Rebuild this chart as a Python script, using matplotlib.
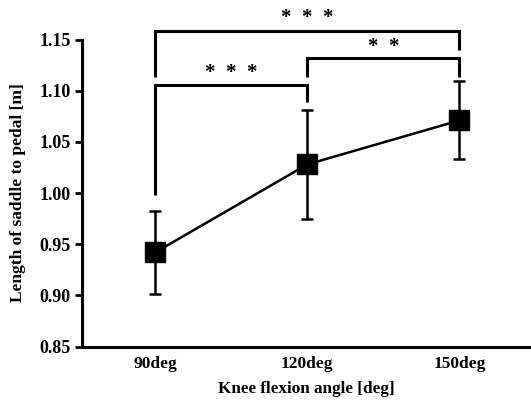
import matplotlib
matplotlib.use("Agg")
import matplotlib.pyplot as plt

categories = ["90deg", "120deg", "150deg"]
means = [0.942, 1.028, 1.071]
errors = [0.041, 0.053, 0.038]
yticks = [0.85, 0.90, 0.95, 1.00, 1.05, 1.10, 1.15]

# significance brackets: (i, j, bar_y, left_leg_bottom, right_leg_bottom, label, label_y)
brackets = [
    (0, 2, 1.1583, 1.1137, 1.1397, "***", 1.1707),
    (1, 2, 1.1316, 1.1137, 1.1137, "**", 1.1430),
    (0, 1, 1.1059, 0.9980, 1.0887, "***", 1.1176),
]

plt.rcParams['font.family'] = ['Liberation Serif', 'DejaVu Serif']

fig = plt.figure(figsize=(5.31, 4.05), dpi=100)
ax = fig.add_axes([82/531, 1-346.7/405, 1-82/531, (346.7-39.5)/405])

x = list(range(len(categories)))
ax.errorbar(x, means, yerr=errors, fmt='s-', color='black', ms=15, lw=1.8,
            elinewidth=1.8, capsize=4.3, capthick=1.8, zorder=3)

for i, j, by, lb, rb, lab, ly in brackets:
    ax.plot([i, i, j, j], [lb, by, by, rb], color='black', lw=2.2,
            clip_on=False, solid_capstyle='butt', solid_joinstyle='miter')
    ax.text((i + j) / 2, ly, "  ".join(lab), ha='center', va='center',
            fontsize=15, fontweight='bold', clip_on=False)

ax.set_xlim(-0.48, 2.47)
ax.set_ylim(0.85, 1.15)
ax.set_yticks(yticks)
ax.set_yticklabels([f"{v:.2f}" for v in yticks], fontsize=13, fontweight='bold')
ax.set_xticks(x)
ax.set_xticklabels(categories, fontsize=12.5, fontweight='bold')
ax.tick_params(axis='x', length=0, pad=7)
ax.tick_params(axis='y', length=5, width=2, direction='out', pad=3)
for s in ['top', 'right']:
    ax.spines[s].set_visible(False)
for s in ['left', 'bottom']:
    ax.spines[s].set_linewidth(2.2)

ax.set_xlabel("Knee flexion angle [deg]", fontsize=12.3, fontweight='bold', labelpad=6)
ax.set_ylabel("Length of saddle to pedal [m]", fontsize=12.5, fontweight='bold', labelpad=10)

fig.savefig("out.png", dpi=100)
